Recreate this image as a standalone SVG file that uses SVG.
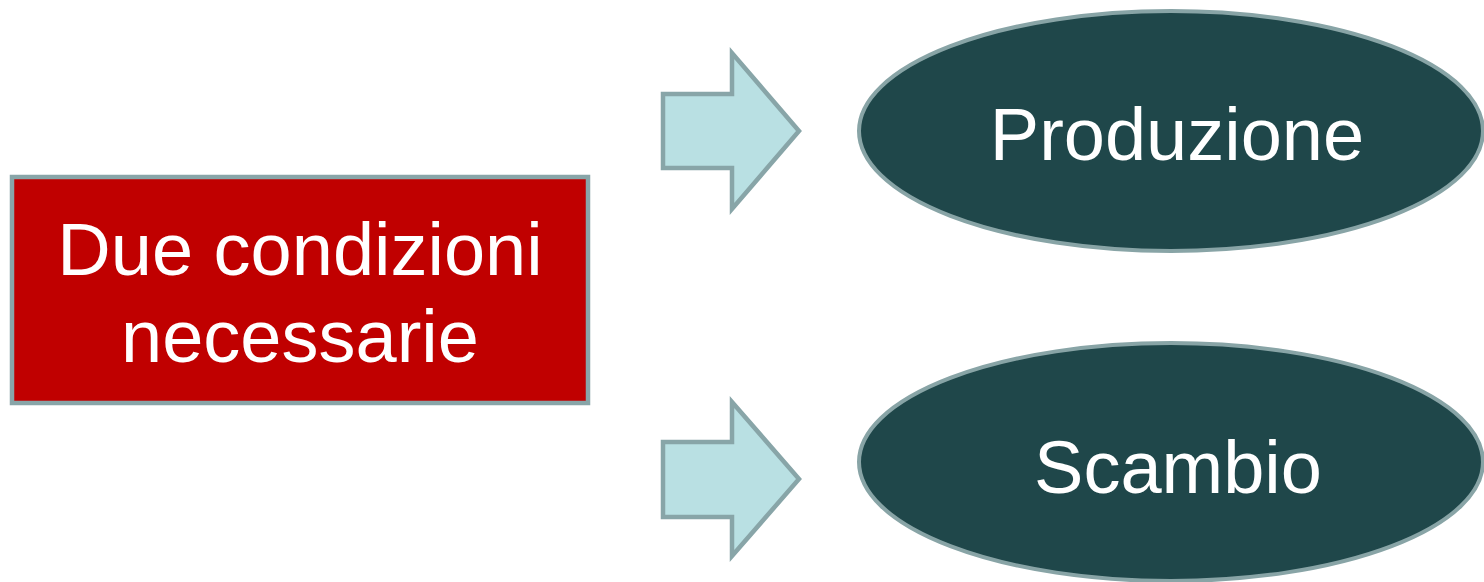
<svg xmlns="http://www.w3.org/2000/svg" width="1484" height="582" viewBox="0 0 1484 582">
<style>
.lbl{font-family:"Liberation Sans",Arial,sans-serif;font-size:74px;fill:#ffffff;text-anchor:middle}
.ell{fill:#1F474A;stroke:#88A4A6;stroke-width:4}
.arr{fill:#B9E0E3;stroke:#88A5A8;stroke-width:4.5}
</style>
<rect width="1484" height="582" fill="#ffffff"/>
<g id="node-conditions">
<rect x="12" y="177" width="576" height="226" fill="#C00000" stroke="#88A5A8" stroke-width="4.5"/>
<text class="lbl" x="300" y="275">Due condizioni</text>
<text class="lbl" x="300" y="362">necessarie</text>
</g>
<g id="connectors">
<path class="arr" d="M663,94 H732 V53 L799,131 L732,209 V168 H663 Z"/>
<path class="arr" d="M663,442 H732 V402 L799,479 L732,556 V517 H663 Z"/>
</g>
<g id="node-produzione">
<ellipse class="ell" cx="1171" cy="131" rx="312" ry="120"/>
<text class="lbl" x="1177" y="160">Produzione</text>
</g>
<g id="node-scambio">
<ellipse class="ell" cx="1171" cy="462" rx="312" ry="119"/>
<text class="lbl" x="1178" y="493">Scambio</text>
</g>
</svg>
